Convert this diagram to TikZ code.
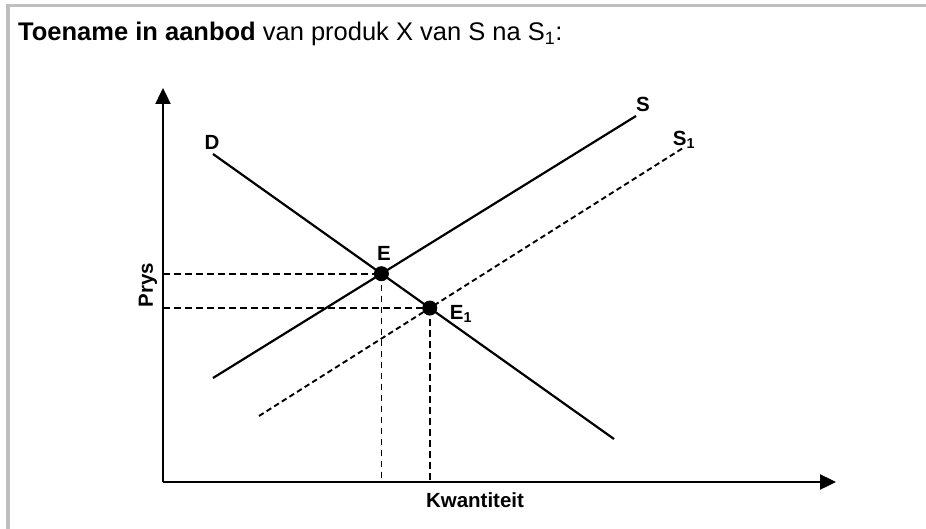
\documentclass[tikz,border=0pt]{standalone}
\usepackage{fontspec}
\setmainfont{Liberation Sans}
\usetikzlibrary{arrows.meta}
\begin{document}
\begin{tikzpicture}[x=1pt,y=-1pt]
\tikzset{
  frame/.style={draw=black!25, line width=3.2pt},
  axis/.style={draw=black, line width=2.4pt, -{Triangle[length=16pt,width=15pt]}},
  curve/.style={draw=black, line width=2.2pt},
  dcurve/.style={draw=black, line width=1.9pt, dash pattern=on 5.5pt off 3.5pt},
  guide/.style={draw=black, line width=1.8pt, dash pattern=on 6.5pt off 4.5pt},
  lbl/.style={font=\bfseries\fontsize{20.5}{24}\selectfont, inner sep=0pt},
  pt/.style={circle, fill=black, inner sep=0pt, minimum size=15pt}
}
\useasboundingbox (0,0) rectangle (926,529);
\draw[frame] (926,5.5) -- (8,5.5) -- (8,529);
\node[anchor=base west, inner sep=0pt, font=\fontsize{25.5}{29}\selectfont] (title) at (18,41)
  {\textbf{Toename in aanbod} van produk X van S na S\textsubscript{1}:};
% axes
\coordinate (O) at (163,482);
\coordinate (Ytop) at (163,88);
\coordinate (Xend) at (836,482);
\draw[axis] (O) -- (Ytop);
\draw[axis] (O) -- (Xend);
% lines
\coordinate (Da) at (213,154);
\coordinate (Db) at (614,439);
\coordinate (Sa) at (213,378);
\coordinate (Sb) at (636,116);
\coordinate (S1a) at (259,416);
\coordinate (S1b) at (683,148);
\draw[curve] (Da) -- (Db);
\draw[curve] (Sa) -- (Sb);
\draw[dcurve] (S1a) -- (S1b);
\coordinate (E) at (intersection of Da--Db and Sa--Sb);
\coordinate (E1) at (intersection of Da--Db and S1a--S1b);
% guides
\draw[guide] (O |- E) -- (E);
\draw[guide] (O |- E1) -- (E1);
\draw[guide] (E) -- (E |- O);
\draw[guide] (E1) -- (E1 |- O);
\node[pt] (Ept) at (E) {};
\node[pt] (E1pt) at (E1) {};
% labels
\node[lbl] (Dl) at (212,142) {D};
\node[lbl] (Sl) at (643,104) {S};
\node[lbl] (S1l) at (684,140) {S\textsubscript{1}};
\node[lbl] (El) at (384,253) {E};
\node[lbl] (E1l) at (461,314) {E\textsubscript{1}};
\node[lbl, rotate=90] (Prys) at (148,285) {Prys};
\node[lbl] (Kw) at (475,500) {Kwantiteit};
\end{tikzpicture}
\end{document}
